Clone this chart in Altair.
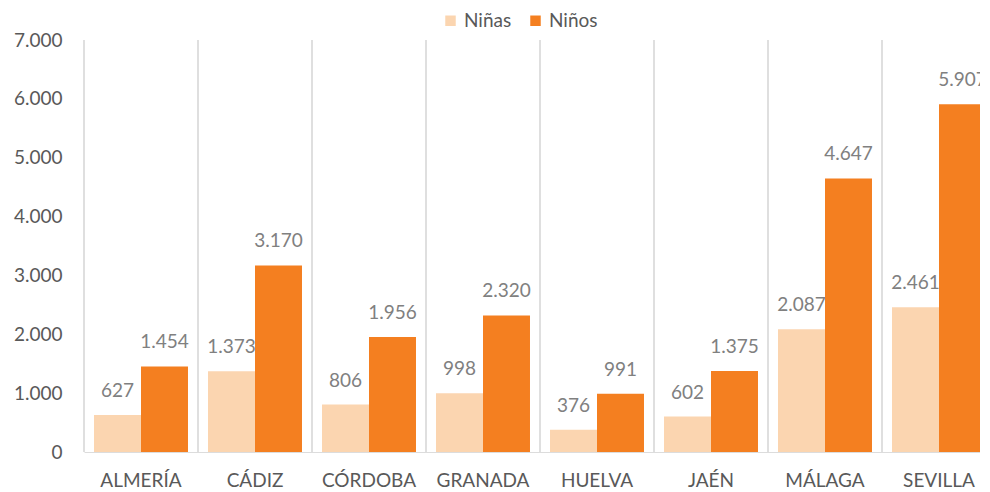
import altair as alt
import pandas as pd

provincias = ["ALMERÍA", "CÁDIZ", "CÓRDOBA", "GRANADA", "HUELVA", "JAÉN", "MÁLAGA", "SEVILLA"]
ninas = [627, 1373, 806, 998, 376, 602, 2087, 2461]
ninos = [1454, 3170, 1956, 2320, 991, 1375, 4647, 5907]
series = ["Niñas", "Niños"]
colores = ["#FBD5B0", "#F47F20"]
y_ticks = [0, 1000, 2000, 3000, 4000, 5000, 6000, 7000]

rows = []
for p, a, b in zip(provincias, ninas, ninos):
    rows.append({"prov": p, "serie": series[0], "valor": a})
    rows.append({"prov": p, "serie": series[1], "valor": b})
df = pd.DataFrame(rows)
sep_df = pd.DataFrame({"prov": provincias})

W, H, BAND = 896, 412, 114
FONT = "Lato"
fmt_expr = "replace(format(datum.valor, ','), ',', '.')"

xscale = alt.Scale(domain=provincias, range=[0, BAND * len(provincias)],
                   paddingInner=0, paddingOuter=0)
xaxis = alt.Axis(title=None, labelAngle=0, ticks=False, grid=False,
                 domain=True, domainColor="#dcdcdc", domainWidth=1,
                 labelFontSize=19, labelColor="#595959", labelFont=FONT,
                 labelPadding=19)
x_enc = alt.X("prov:N", sort=provincias, scale=xscale, axis=xaxis)
xoff = alt.XOffset("serie:N", sort=series,
                   scale=alt.Scale(paddingInner=0, paddingOuter=0.213))
yscale = alt.Scale(domain=[0, 7000], nice=False)
yaxis = alt.Axis(title=None, values=y_ticks, grid=False, domain=False, ticks=False,
                 labelExpr="replace(format(datum.value, ','), ',', '.')",
                 labelFontSize=19, labelColor="#595959", labelFont=FONT,
                 labelPadding=22)

seps = alt.Chart(sep_df).mark_rule(color="#d4d4d4", strokeWidth=1.5).encode(
    x=alt.X("prov:N", sort=provincias, scale=xscale, bandPosition=0, axis=xaxis),
    y=alt.value(0), y2=alt.value(H))

labels = alt.Chart(df).transform_calculate(label=fmt_expr).mark_text(
    baseline="bottom", dy=-14, fontSize=19, color="#808080", font=FONT
).encode(x=x_enc, xOffset=xoff,
         y=alt.Y("valor:Q", scale=yscale, axis=yaxis),
         text="label:N")

bars = alt.Chart(df).mark_bar().encode(
    x=x_enc, xOffset=xoff,
    y=alt.Y("valor:Q", scale=yscale, axis=yaxis),
    color=alt.Color("serie:N", sort=series,
                    scale=alt.Scale(domain=series, range=colores),
                    legend=alt.Legend(orient="none", legendX=357, legendY=-29,
                                      direction="horizontal", title=None,
                                      symbolType="square", symbolSize=110,
                                      symbolStrokeWidth=0,
                                      labelFontSize=19, labelColor="#595959",
                                      labelFont=FONT, columnPadding=14)))

chart = alt.layer(seps, labels, bars).properties(
    width=W, height=H,
    padding={"left": 76, "top": 32, "right": 0, "bottom": 40},
    autosize=alt.AutoSizeParams(type="none"),
    background="white",
).configure_view(stroke=None)

chart.save("out.html", embed_options={"renderer": "svg", "actions": False})
